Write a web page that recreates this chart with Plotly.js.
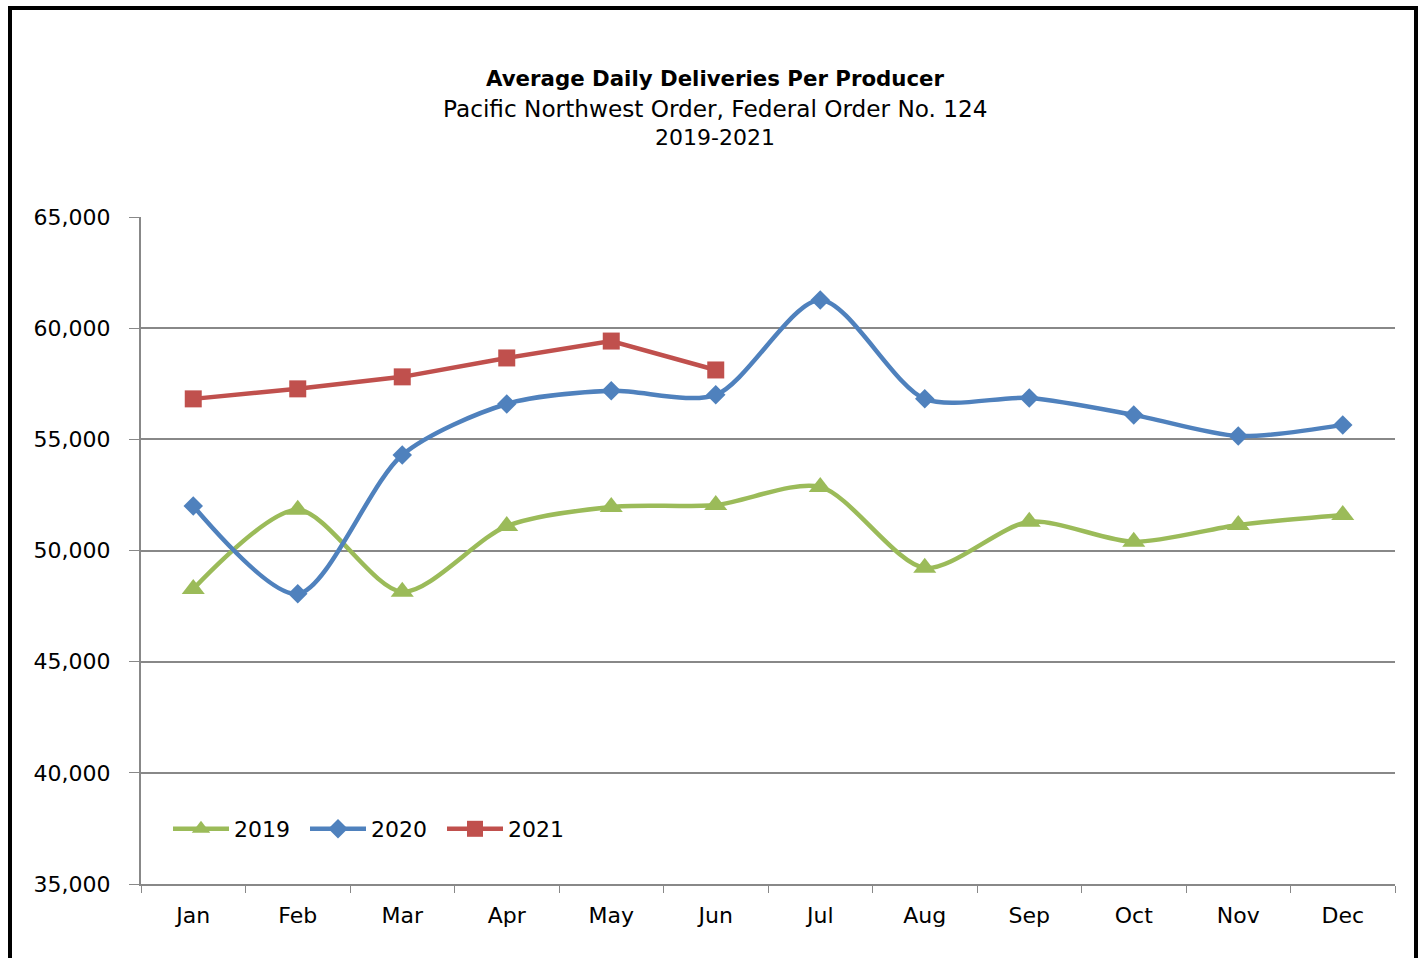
<!DOCTYPE html>
<html>
<head>
<meta charset="utf-8">
<script src="https://cdn.plot.ly/plotly-3.0.1.min.js"></script>
<style>
  html, body { margin: 0; padding: 0; background: #fff; overflow: hidden; }
  #chart { position: absolute; left: 0; top: 0; width: 1422px; height: 958px; }
  #frame { position: absolute; left: 8px; top: 6px; width: 1402px; height: 1000px;
           border: 4px solid #000; pointer-events: none; }
</style>
</head>
<body>
<div id="chart"></div>
<div id="frame"></div>
<script>
const months = ["Jan","Feb","Mar","Apr","May","Jun","Jul","Aug","Sep","Oct","Nov","Dec"];
const values2019 = [48270, 51830, 48140, 51100, 51960, 52050, 52860, 49220, 51290, 50390, 51150, 51600];
const values2020 = [52000, 48050, 54300, 56590, 57180, 57000, 61270, 56820, 56860, 56100, 55150, 55650];
const values2021 = [56820, 57270, 57810, 58660, 59420, 58120];
const titleLines = ["Average Daily Deliveries Per Producer", "Pacific Northwest Order, Federal Order No. 124", "2019-2021"];

const FONT = "DejaVu Sans, Verdana, sans-serif";

const traces = [
  {
    name: "2019", x: months, y: values2019, type: "scatter", mode: "lines+markers",
    line: { color: "#9BBB59", width: 4.5, shape: "spline", smoothing: 0.8 },
    marker: { symbol: "triangle-up", size: 20, color: "#9BBB59" }
  },
  {
    name: "2020", x: months, y: values2020, type: "scatter", mode: "lines+markers",
    line: { color: "#4F81BD", width: 4.5, shape: "spline", smoothing: 0.8 },
    marker: { symbol: "diamond", size: 15, color: "#4F81BD" }
  },
  {
    name: "2021", x: months.slice(0, values2021.length), y: values2021, type: "scatter", mode: "lines+markers",
    line: { color: "#C0504D", width: 4.5 },
    marker: { symbol: "square", size: 17, color: "#C0504D" }
  }
];

const plotTop = 217, plotBottom = 884;
function paperY(py) { return (plotBottom - py) / (plotBottom - plotTop); }

const layout = {
  width: 1422, height: 958,
  margin: { l: 141, r: 27, t: 217, b: 74 },
  paper_bgcolor: "#fff", plot_bgcolor: "#fff",
  font: { family: FONT, color: "#000", size: 22 },
  annotations: [
    { text: "<b>" + titleLines[0] + "</b>", font: { family: FONT, size: 21.3, color: "#000" } , y: paperY(78) },
    { text: titleLines[1], font: { family: FONT, size: 23.2, color: "#000" }, y: paperY(108) },
    { text: titleLines[2], font: { family: FONT, size: 22, color: "#000" }, y: paperY(138) }
  ].map(a => Object.assign(a, { xref: "paper", yref: "paper", x: (715 - 141) / (1395 - 141), xanchor: "center", yanchor: "middle", showarrow: false })),
  showlegend: true,
  legend: {
    orientation: "h", x: (168 - 141) / (1395 - 141), y: paperY(829), xanchor: "left", yanchor: "middle",
    font: { family: FONT, size: 22, color: "#000" },
    bgcolor: "rgba(0,0,0,0)", itemwidth: 56, entrywidth: 66, entrywidthmode: "pixels", traceorder: "normal"
  },
  xaxis: {
    type: "category", tickson: "boundaries", ticks: "outside", ticklen: 7, tickcolor: "#888",
    showline: true, linecolor: "#888", linewidth: 2, showgrid: false, zeroline: false,
    ticklabelstandoff: 11,
    tickfont: { family: FONT, size: 22, color: "#000" }, range: [-0.5, 11.5]
  },
  yaxis: {
    range: [35000, 65000], dtick: 5000, tickformat: ",d",
    ticks: "outside", ticklen: 10, tickcolor: "#888",
    showline: true, linecolor: "#888", linewidth: 2,
    ticklabelstandoff: 14,
    showgrid: true, gridcolor: "#888", gridwidth: 2, zeroline: false,
    tickfont: { family: FONT, size: 22, color: "#000" }
  }
};

Plotly.newPlot("chart", traces, layout, { displayModeBar: false, staticPlot: true });
</script>
</body>
</html>
